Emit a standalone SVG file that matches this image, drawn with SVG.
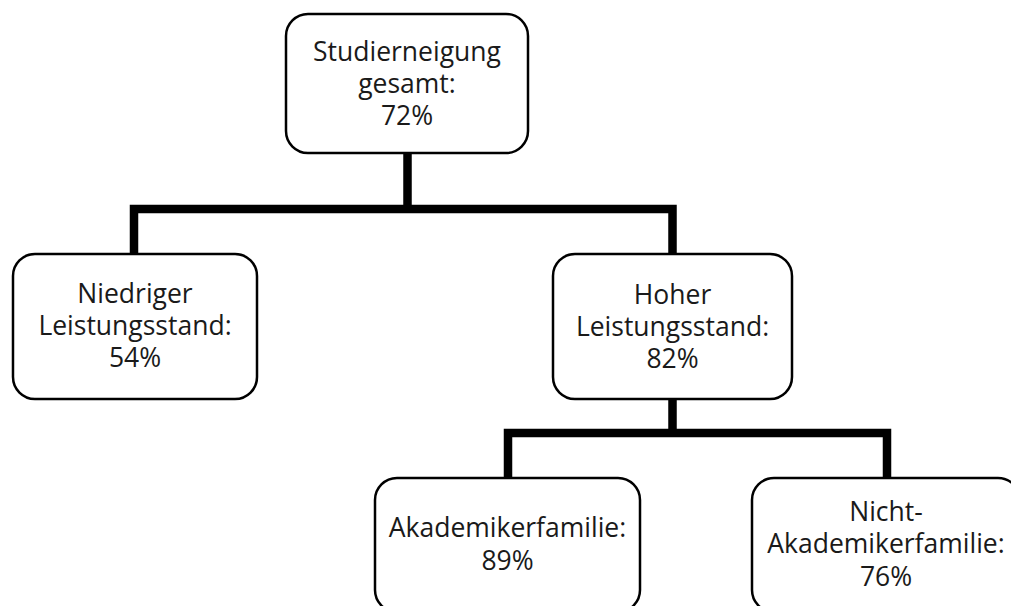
<svg xmlns="http://www.w3.org/2000/svg" width="1011" height="606" viewBox="0 0 1011 606">
<style>
.box{fill:#fff;stroke:#000;stroke-width:2.5}
.t{font-family:"Open Sans",sans-serif;font-size:26.5px;fill:#1a1a1a;text-anchor:middle}
.c{fill:none;stroke:#000;stroke-width:8.5;stroke-linejoin:miter;stroke-linecap:butt}
</style>
<rect width="1011" height="606" fill="#fff"/>
<g id="connectors">
<path class="c" d="M407.5 153V209M134 253V209H672.5V253"/>
<path class="c" d="M672.5 399V433M508 477V433H887V477"/>
</g>
<g id="n-gesamt">
<rect class="box" x="286" y="14" width="242" height="139" rx="22"/>
<text class="t" x="407" y="61">Studierneigung</text>
<text class="t" x="407" y="93">gesamt:</text>
<text class="t" x="407" y="125">72%</text>
</g>
<g id="n-niedrig">
<rect class="box" x="13" y="254" width="244" height="145" rx="22"/>
<text class="t" x="135" y="303">Niedriger</text>
<text class="t" x="135" y="335">Leistungsstand:</text>
<text class="t" x="135" y="367">54%</text>
</g>
<g id="n-hoch">
<rect class="box" x="553" y="254" width="239" height="145" rx="22"/>
<text class="t" x="672.5" y="304">Hoher</text>
<text class="t" x="672.5" y="336">Leistungsstand:</text>
<text class="t" x="672.5" y="368">82%</text>
</g>
<g id="n-akad">
<rect class="box" x="375" y="478" width="265" height="134" rx="22"/>
<text class="t" x="507.5" y="537">Akademikerfamilie:</text>
<text class="t" x="507.5" y="570">89%</text>
</g>
<g id="n-nichtakad">
<rect class="box" x="752" y="478" width="268" height="134" rx="22"/>
<text class="t" x="886" y="521">Nicht-</text>
<text class="t" x="886" y="553">Akademikerfamilie:</text>
<text class="t" x="886" y="586">76%</text>
</g>
</svg>
